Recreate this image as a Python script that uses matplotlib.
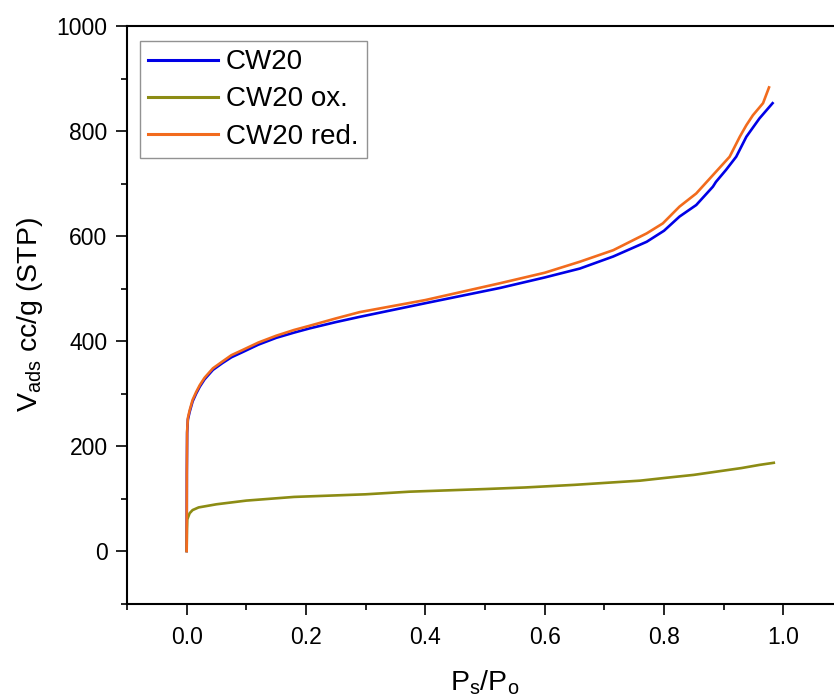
import matplotlib
matplotlib.use("Agg")
import matplotlib.pyplot as plt
from matplotlib.ticker import MultipleLocator, FormatStrFormatter

plt.rcParams['font.family'] = ['Liberation Sans', 'DejaVu Sans']
plt.rcParams['mathtext.fontset'] = 'custom'
plt.rcParams['mathtext.rm'] = 'Liberation Sans'
plt.rcParams['mathtext.it'] = 'Liberation Sans'

# Nitrogen adsorption isotherms (relative pressure vs adsorbed volume)
p_cw20 = [0.0, 0.0003, 0.0008, 0.002, 0.005, 0.01, 0.016, 0.022, 0.03, 0.044,
          0.06, 0.075, 0.094, 0.12, 0.15, 0.18, 0.206, 0.25, 0.29, 0.40,
          0.525, 0.60, 0.659, 0.715, 0.771, 0.80, 0.826, 0.854, 0.882, 0.887,
          0.904, 0.921, 0.938, 0.96, 0.982]
v_cw20 = [0, 150, 225, 250, 265, 285, 300, 313, 327, 345,
          358, 369, 379, 393, 406, 416, 424, 436, 446, 472,
          501, 521, 538, 561, 589, 610, 637, 659, 694, 703,
          726, 751, 789, 824, 853]

p_ox = [0.0, 0.0005, 0.001, 0.005, 0.01, 0.02, 0.05, 0.1, 0.18, 0.3,
        0.374, 0.5, 0.567, 0.65, 0.76, 0.8, 0.85, 0.887, 0.93, 0.96, 0.984]
v_ox = [0, 40, 60, 72, 78, 83, 89, 96, 103, 108,
        113, 118, 121, 126, 134, 139, 145, 151, 158, 164, 168]

p_red = [0.0, 0.0003, 0.0008, 0.002, 0.005, 0.01, 0.016, 0.022, 0.03, 0.044,
         0.06, 0.075, 0.094, 0.12, 0.15, 0.18, 0.206, 0.25, 0.29, 0.40,
         0.525, 0.60, 0.659, 0.715, 0.771, 0.798, 0.826, 0.854, 0.882, 0.910,
         0.927, 0.938, 0.949, 0.966, 0.976]
v_red = [0, 150, 228, 253, 268, 288, 303, 316, 330, 348,
         361, 373, 383, 397, 410, 421, 429, 443, 455, 478,
         510, 530, 551, 573, 605, 624, 656, 681, 716, 751,
         789, 811, 830, 853, 883]

labels = ['CW20', 'CW20 ox.', 'CW20 red.']
colors = ['#0000E6', '#8C8C14', '#F26B1D']

fig = plt.figure(figsize=(8.34, 6.97), dpi=100)
ax = fig.add_axes([127 / 834, 1 - 603.5 / 697, 716 / 834, 577.5 / 697])

ax.plot(p_cw20, v_cw20, color=colors[0], lw=1.9, label=labels[0])
ax.plot(p_ox, v_ox, color=colors[1], lw=1.9, label=labels[1])
ax.plot(p_red, v_red, color=colors[2], lw=1.9, label=labels[2])

ax.set_xlim(-0.1, 1.1)
ax.set_ylim(-100, 1000)
ax.xaxis.set_major_locator(MultipleLocator(0.2))
ax.xaxis.set_minor_locator(MultipleLocator(0.1))
ax.yaxis.set_major_locator(MultipleLocator(200))
ax.yaxis.set_minor_locator(MultipleLocator(100))
ax.xaxis.set_major_formatter(FormatStrFormatter('%.1f'))

for s in ax.spines.values():
    s.set_linewidth(1.5)
ax.tick_params(which='major', direction='out', length=8, width=1.2, labelsize=16.5)
ax.tick_params(axis='y', which='major', pad=6)
ax.tick_params(axis='x', which='major', pad=8)
ax.tick_params(which='minor', direction='out', length=4, width=1.2)

ax.set_xlabel(r'P$_\mathregular{s}$/P$_\mathregular{o}$', fontsize=20.5, labelpad=14)
ax.set_ylabel(r'V$_\mathregular{ads}$ cc/g (STP)', fontsize=20.5, labelpad=8)

leg = ax.legend(loc='upper left', bbox_to_anchor=(0.018, 0.974), fontsize=20,
                frameon=True, fancybox=False, borderpad=0.3, labelspacing=0.4,
                handlelength=2.5, handletextpad=0.3, borderaxespad=0.0)
leg.get_frame().set_edgecolor('#777777')
leg.get_frame().set_linewidth(1.0)
for line in leg.get_lines():
    line.set_linewidth(2.2)

fig.savefig('out.png', dpi=100)
